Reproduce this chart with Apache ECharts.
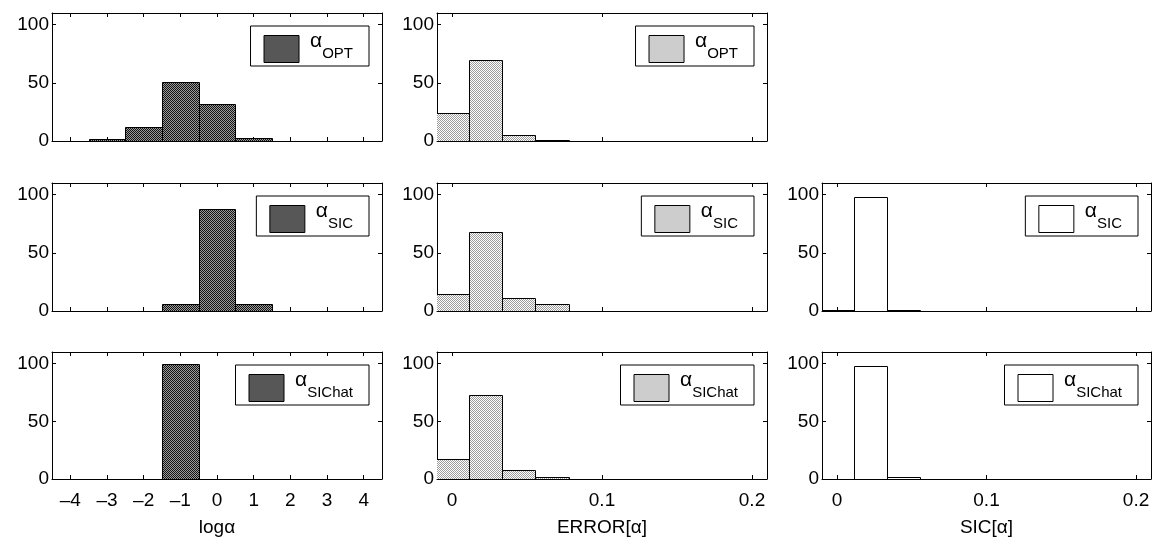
<!DOCTYPE html>
<html>
<head>
<meta charset="utf-8">
<title>Histograms of alpha estimates</title>
<script src="https://cdn.jsdelivr.net/npm/echarts@6/dist/echarts.min.js"></script>
<style>
  html, body { margin: 0; padding: 0; background: #fff; }
  #chart { width: 1155px; height: 539px; }
</style>
</head>
<body>
<div id="chart"></div>
<script>
// ---- histogram data (bin centres and counts per estimator) ----
const logBinWidth = 1;
const logCentersOpt = [-3, -2, -1, 0, 1];
const logCountsOpt = [2, 12, 51, 32, 3];
const logCentersSic = [-1, 0, 1];
const logCountsSic = [6, 88, 6];
const logCentersSicHat = [-1];
const logCountsSicHat = [100];

const errBinWidth = 0.0222;
const errCenters = [0, 0.0222, 0.0444, 0.0667];
const errCountsOpt = [24, 70, 5, 1];
const errCountsSic = [15, 68, 11, 6];
const errCountsSicHat = [17, 73, 8, 2];

const sicBinWidth = 0.0222;
const sicCenters = [0, 0.0222, 0.0444];
const sicCountsSic = [1, 98, 1];
const sicCountsSicHat = [0, 98, 2];

const subscripts = ['OPT', 'SIC', 'SIChat'];
const axisNames = ['log\u03b1', 'ERROR[\u03b1]', 'SIC[\u03b1]'];

// ---- stipple fills ----
function stipple(a, b) {
  const c = document.createElement('canvas');
  c.width = 2; c.height = 2;
  const g = c.getContext('2d');
  g.fillStyle = a; g.fillRect(0, 0, 2, 2);
  g.fillStyle = b; g.fillRect(0, 0, 1, 1); g.fillRect(1, 1, 1, 1);
  return { image: c, repeat: 'repeat' };
}
const darkFill = stipple('#9a9a9a', '#141414');
const lightFill = stipple('#ffffff', '#9c9c9c');
const whiteFill = '#ffffff';

const FONT = "'Liberation Sans', Arial, Helvetica, sans-serif";
const colLeft = [52, 437, 822];
const colWidth = [330, 330, 329];
const rowTop = [13, 183, 352];
const rowHeight = [128, 128, 127];
const W = 1155;

const panels = [
  { col: 0, row: 0, centers: logCentersOpt, counts: logCountsOpt, w: logBinWidth, fill: darkFill, sub: 0 },
  { col: 1, row: 0, centers: errCenters, counts: errCountsOpt, w: errBinWidth, fill: lightFill, sub: 0 },
  { col: 0, row: 1, centers: logCentersSic, counts: logCountsSic, w: logBinWidth, fill: darkFill, sub: 1 },
  { col: 1, row: 1, centers: errCenters, counts: errCountsSic, w: errBinWidth, fill: lightFill, sub: 1 },
  { col: 2, row: 1, centers: sicCenters, counts: sicCountsSic, w: sicBinWidth, fill: whiteFill, sub: 1 },
  { col: 0, row: 2, centers: logCentersSicHat, counts: logCountsSicHat, w: logBinWidth, fill: darkFill, sub: 2 },
  { col: 1, row: 2, centers: errCenters, counts: errCountsSicHat, w: errBinWidth, fill: lightFill, sub: 2 },
  { col: 2, row: 2, centers: sicCenters, counts: sicCountsSicHat, w: sicBinWidth, fill: whiteFill, sub: 2 }
];

const xRanges = [[-4.5, 4.5, 9], [-0.01, 0.21, 2], [-0.01, 0.21, 2]];

function fmtTick(v) {
  return String(v).replace('-', '\u2013');
}

const grid = [], xAxis = [], yAxis = [], series = [], legend = [];

panels.forEach(function (p, i) {
  const left = colLeft[p.col], width = colWidth[p.col];
  const top = rowTop[p.row], height = rowHeight[p.row];
  grid.push({ left: left, top: top, width: width, height: height, containLabel: false });

  const xr = xRanges[p.col];
  const showX = p.row === 2;
  const tick = { show: true, inside: true, length: 4, lineStyle: { color: '#000', width: 1 } };
  const line = { show: true, onZero: false, lineStyle: { color: '#000', width: 1 } };

  xAxis.push({
    type: 'value', gridIndex: i, position: 'bottom', min: xr[0], max: xr[1], splitNumber: xr[2],
    axisLine: line, axisTick: tick, splitLine: { show: false },
    axisLabel: {
      show: showX, showMinLabel: false, showMaxLabel: false, margin: 12,
      color: '#000', fontFamily: FONT, fontSize: 19, formatter: fmtTick
    },
    name: showX ? axisNames[p.col] : '', nameLocation: 'middle', nameGap: 39,
    nameTextStyle: { color: '#000', fontFamily: FONT, fontSize: 19 }
  });
  xAxis.push({
    type: 'value', gridIndex: i, position: 'top', min: xr[0], max: xr[1], splitNumber: xr[2],
    axisLine: line, axisTick: tick, splitLine: { show: false }, axisLabel: { show: false }
  });
  yAxis.push({
    type: 'value', gridIndex: i, position: 'left', min: 0, max: 110, interval: 50,
    axisLine: line, axisTick: tick, splitLine: { show: false },
    axisLabel: { showMaxLabel: false, margin: 3, color: '#000', fontFamily: FONT, fontSize: 19 }
  });
  yAxis.push({
    type: 'value', gridIndex: i, position: 'right', min: 0, max: 110, interval: 50,
    axisLine: line, axisTick: tick, splitLine: { show: false }, axisLabel: { show: false }
  });

  const name = 'h' + i;
  const bw = p.w;
  const fill = p.fill;
  series.push({
    type: 'custom', name: name, xAxisIndex: 2 * i, yAxisIndex: 2 * i, clip: true,
    data: p.centers.map(function (c, k) { return [c, p.counts[k]]; }),
    renderItem: function (params, api) {
      const c = api.value(0), v = api.value(1);
      const a = api.coord([c - bw / 2, v]);
      const b = api.coord([c + bw / 2, 0]);
      const x0 = Math.round(a[0]) + 0.5, x1 = Math.round(b[0]) + 0.5;
      const y0 = Math.round(a[1]) + 0.5, y1 = Math.round(b[1]) + 0.5;
      return {
        type: 'rect',
        shape: { x: x0, y: y0, width: x1 - x0, height: y1 - y0 },
        style: { fill: fill, stroke: '#000', lineWidth: 1 }
      };
    },
    itemStyle: { color: fill, borderColor: '#000', borderWidth: 1 }
  });

  legend.push({
    show: true,
    right: W - (left + width - 13),
    top: top + 13,
    orient: 'vertical',
    selectedMode: false,
    backgroundColor: '#fff',
    borderColor: '#000',
    borderWidth: 1,
    padding: [5, 16, 3, 13],
    itemWidth: 35,
    itemHeight: 27,
    data: [{ name: name, icon: 'rect', itemStyle: { color: fill, borderColor: '#000', borderWidth: 1 } }],
    formatter: function () { return '{a|\u03b1}{s|' + subscripts[p.sub] + '}'; },
    textStyle: {
      color: '#000', fontFamily: FONT,
      rich: {
        a: { fontSize: 21, fontFamily: FONT, color: '#000', padding: [0, 0, 15, 6] },
        s: { fontSize: 15, fontFamily: FONT, color: '#000', padding: [10, 0, 0, 0] }
      }
    }
  });
});

const chart = echarts.init(document.getElementById('chart'), null, { renderer: 'canvas' });
chart.setOption({
  animation: false,
  backgroundColor: '#fff',
  grid: grid,
  xAxis: xAxis,
  yAxis: yAxis,
  legend: legend,
  series: series
});
</script>
</body>
</html>
